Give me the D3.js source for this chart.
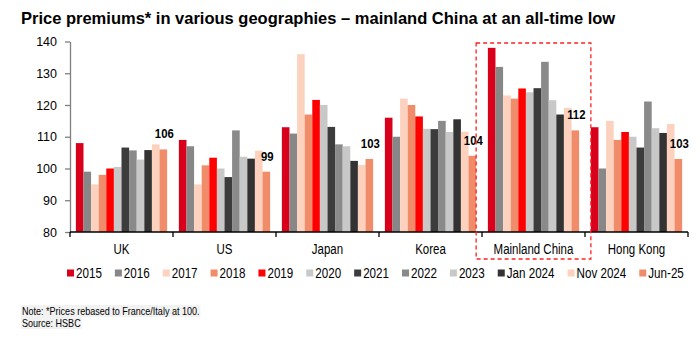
<!DOCTYPE html>
<html>
  <head>
    <script src="https://d3js.org/d3.v7.min.js"></script>
    <style>
      body { margin: 0; background: #fff; }
      svg { display: block; }
    </style>
  </head>
  <body>
    <svg id="chart" width="700" height="339"></svg>

    <script>
      // chart data
      const geographies = ["UK", "US", "Japan", "Korea", "Mainland China", "Hong Kong"];
      const periods = ["2015", "2016", "2017", "2018", "2019", "2020", "2021", "2022", "2023", "Jan 2024", "Nov 2024", "Jun-25"];
      const yTicks = [80, 90, 100, 110, 120, 130, 140];

      // one array per geography, in the order of periods
      const ukValues = [108, 99, 95, 98, 100, 100.5, 106.6, 105.7, 102.8, 105.8, 107.6, 106];
      const usValues = [109, 107, 95, 101, 103.4, 100, 97.3, 112, 103.7, 103.1, 105.6, 99];
      const japanValues = [113, 111, 136, 117, 121.6, 120, 113.1, 107.6, 107, 102.4, 101.1, 103];
      const koreaValues = [116, 110, 122, 120, 116.4, 112.5, 112.4, 115, 111.5, 115.5, 111.6, 104];
      const chinaValues = [138, 132, 123, 122, 125.2, 124, 125.3, 133.6, 121.5, 117, 119.1, 112];
      const hkValues = [113, 100, 115, 109, 111.5, 110, 106.6, 121.1, 112.7, 111.2, 114, 103];

      const seriesColors = ["#d9001b", "#878787", "#fcd2bf", "#f08c69", "#ff0000", "#c8c8c8",
                            "#3c3c3c", "#8a8a8a", "#c8c8c8", "#333333", "#fcd2bf", "#f08c69"];

      const valuesByGeo = [ukValues, usValues, japanValues, koreaValues, chinaValues, hkValues];
      const rows = geographies.map((g, i) => ({ geo: g, values: valuesByGeo[i] }));

      const FONT = "'Liberation Sans', Arial, sans-serif";
      const svg = d3.select("#chart");

      // squeeze text horizontally to get an Arial Narrow look
      function narrow(sel, k) {
        sel.each(function () {
          const w = this.getComputedTextLength();
          d3.select(this)
            .attr("textLength", w * (k || 0.82))
            .attr("lengthAdjust", "spacingAndGlyphs");
        });
        return sel;
      }

      const plotLeft = 70, plotRight = 688, plotTop = 41.5, plotBottom = 232;

      const x0 = d3.scaleBand()
        .domain(geographies)
        .range([plotLeft, plotRight])
        .paddingInner(0.114)
        .paddingOuter(0.057);

      const x1 = d3.scaleBand()
        .domain(periods)
        .range([0, x0.bandwidth()])
        .padding(0);

      const y = d3.scaleLinear()
        .domain([80, 140])
        .range([plotBottom, plotTop]);

      // title
      svg.append("text")
        .attr("x", 21)
        .attr("y", 24)
        .style("font-family", FONT)
        .style("font-weight", "bold")
        .style("font-size", "16.5px")
        .style("fill", "#000")
        .text("Price premiums* in various geographies \u2013 mainland China at an all-time low");

      // bars
      const groups = svg.selectAll("g.geo")
        .data(rows)
        .enter()
        .append("g")
        .attr("class", "geo")
        .attr("transform", d => "translate(" + x0(d.geo) + ",0)");

      groups.selectAll("rect")
        .data(d => d.values.map((v, i) => ({ period: periods[i], value: v, idx: i })))
        .enter()
        .append("rect")
        .attr("x", d => x1(d.period))
        .attr("y", d => y(d.value))
        .attr("width", x1.bandwidth())
        .attr("height", d => y(80) - y(d.value))
        .attr("fill", d => seriesColors[d.idx]);

      // labels on the latest bar
      const last = periods[periods.length - 1];
      const valueLabels = groups.append("text")
        .attr("x", x1(last) + x1.bandwidth() / 2 + 1)
        .attr("y", d => y(d.values[d.values.length - 1]) - 11)
        .attr("text-anchor", "middle")
        .style("font-family", FONT)
        .style("font-weight", "bold")
        .style("font-size", "13.5px")
        .text(d => d.values[d.values.length - 1]);
      narrow(valueLabels, 0.84);

      // y axis
      const yAxis = svg.append("g")
        .attr("transform", "translate(" + plotLeft + ",0)")
        .call(d3.axisLeft(y).tickValues(yTicks).tickSize(5).tickPadding(8).tickSizeOuter(0));
      yAxis.select(".domain").attr("stroke", "#7f7f7f").attr("stroke-width", 1.3);
      yAxis.selectAll(".tick line").attr("stroke", "#7f7f7f").attr("stroke-width", 1.3);
      yAxis.selectAll(".tick text")
        .style("font-family", FONT)
        .style("font-size", "12.5px")
        .style("fill", "#000");

      // x axis: ticks at group boundaries
      const step = x0.step();
      const boundaries = d3.range(geographies.length + 1).map(i => plotLeft + i * step);
      svg.append("line")
        .attr("x1", plotLeft).attr("x2", plotRight)
        .attr("y1", plotBottom).attr("y2", plotBottom)
        .attr("stroke", "#000")
        .attr("stroke-width", 1.3);
      svg.selectAll("line.bound")
        .data(boundaries)
        .enter()
        .append("line")
        .attr("class", "bound")
        .attr("x1", d => d).attr("x2", d => d)
        .attr("y1", plotBottom).attr("y2", plotBottom + 5)
        .attr("stroke", "#000")
        .attr("stroke-width", 1.3);

      const catLabels = svg.selectAll("text.cat")
        .data(geographies)
        .enter()
        .append("text")
        .attr("class", "cat")
        .attr("x", d => x0(d) + x0.bandwidth() / 2)
        .attr("y", 254)
        .attr("text-anchor", "middle")
        .style("font-family", FONT)
        .style("font-size", "14px")
        .text(d => d);
      narrow(catLabels);

      // dashed box around mainland China
      const boxLeft = x0("Mainland China") - x0.paddingInner() * step;
      const boxRight = x0("Hong Kong");
      svg.append("rect")
        .attr("x", boxLeft)
        .attr("y", 43)
        .attr("width", boxRight - boxLeft)
        .attr("height", 259 - 43)
        .attr("fill", "none")
        .attr("stroke", "#ff2020")
        .attr("stroke-width", 1.3)
        .attr("stroke-dasharray", "4,3");

      // legend
      const legend = svg.append("g").attr("transform", "translate(0,273)");
      let lx = 67;
      periods.forEach((p, i) => {
        legend.append("rect")
          .attr("x", lx).attr("y", -3.5)
          .attr("width", 7).attr("height", 7)
          .attr("fill", seriesColors[i]);
        const t = legend.append("text")
          .attr("x", lx + 9)
          .attr("y", 5)
          .style("font-family", FONT)
          .style("font-size", "14px")
          .text(p);
        const w = t.node().getComputedTextLength() * 0.83;
        t.attr("textLength", w).attr("lengthAdjust", "spacingAndGlyphs");
        lx += 9 + w + 13;
      });

      // footnotes
      const notes = ["Note: *Prices rebased to France/Italy at 100.", "Source: HSBC"];
      notes.forEach((n, i) => {
        const g = svg.append("g");
        const bg = g.append("rect").attr("fill", "#f2f2f2");
        const t = g.append("text")
          .attr("x", 22)
          .attr("y", 315 + i * 12)
          .style("font-family", FONT)
          .style("font-size", "11px")
          .style("fill", "#000")
          .text(n);
        narrow(t);
        const bb = t.node().getBBox();
        bg.attr("x", bb.x - 1).attr("y", bb.y).attr("width", bb.width + 2).attr("height", bb.height);
      });
    </script>
  </body>
</html>
